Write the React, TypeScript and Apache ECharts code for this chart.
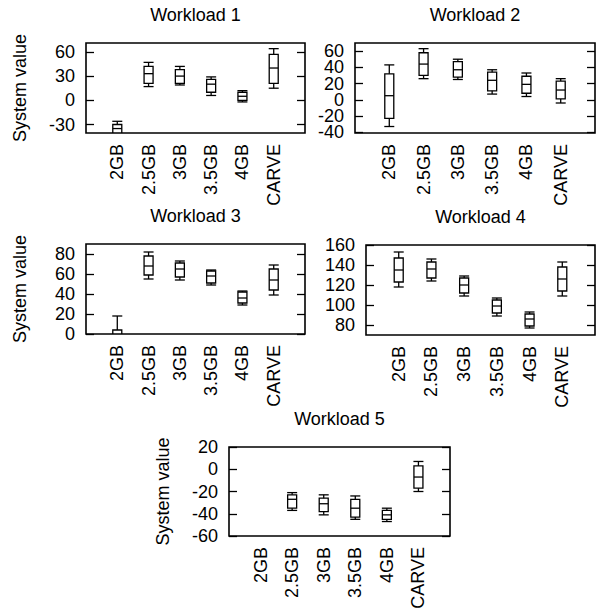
import React, { useEffect, useRef } from "react";
import * as echarts from "echarts";

// ---- data ----
const categories = ["2GB", "2.5GB", "3GB", "3.5GB", "4GB", "CARVE"];
const titles = ["Workload 1", "Workload 2", "Workload 3", "Workload 4", "Workload 5"];
const yAxisLabel = "System value";

// each item: [min, Q1, median, Q3, max]; null = no box drawn
const workload1 = [
  [-50, -44, -35, -30, -26],
  [17, 21, 33, 42, 47],
  [19, 21, 30, 38, 42],
  [6, 10, 20, 26, 29],
  [-2, 0, 5, 10, 12],
  [15, 21, 40, 57, 64],
];
const workload2 = [
  [-33, -23, 5, 32, 43],
  [26, 30, 44, 58, 63],
  [25, 28, 37, 47, 50],
  [7, 11, 24, 34, 37],
  [4, 8, 19, 29, 33],
  [-4, 1, 12, 23, 26],
];
const workload3 = [
  [-6, -3, -1, 4, 18],
  [55, 59, 68, 78, 82],
  [54, 57, 65, 71, 73],
  [49, 51, 58, 63, 64],
  [29, 31, 36, 42, 43],
  [39, 44, 54, 65, 69],
];
const workload4 = [
  [118, 123, 135, 147, 153],
  [124, 127, 136, 143, 146],
  [109, 112, 120, 127, 129],
  [89, 92, 99, 105, 107],
  [77, 79, 86, 91, 93],
  [109, 114, 126, 138, 143],
];
const workload5 = [
  null,
  [-37, -35, -27, -23, -21],
  [-41, -38, -31, -26, -23],
  [-45, -43, -35, -27, -24],
  [-47, -45, -41, -37, -35],
  [-20, -17, -7, 3, 7],
];

const ticks1 = [-30, 0, 30, 60];
const ticks2 = [-40, -20, 0, 20, 40, 60];
const ticks3 = [0, 20, 40, 60, 80];
const ticks4 = [80, 100, 120, 140, 160];
const ticks5 = [-60, -40, -20, 0, 20];

const ranges = [
  [-40.5, 71],
  [-41, 70],
  [0, 90],
  [70, 160],
  [-60, 20],
];

// ---- layout ----
const layouts = [
  { left: 86, top: 43, width: 219, height: 90, yName: true, split: false },
  { left: 355, top: 43, width: 240, height: 90, yName: false, split: true },
  { left: 86, top: 244, width: 219, height: 90, yName: true, split: false },
  { left: 366, top: 245, width: 229, height: 90, yName: false, split: false },
  { left: 229, top: 447, width: 221, height: 89, yName: true, split: false },
];

const FONT = '"Liberation Sans", Arial, Helvetica, sans-serif';
const FS = 18;

export default function App() {
  const ref = useRef<HTMLDivElement>(null);

  useEffect(() => {
    if (!ref.current) return;
    const chart = echarts.init(ref.current, null, { renderer: "svg" });
    const datasets = [workload1, workload2, workload3, workload4, workload5];
    const tickSets = [ticks1, ticks2, ticks3, ticks4, ticks5];

    const grid: any[] = [];
    const xAxis: any[] = [];
    const yAxis: any[] = [];
    const series: any[] = [];
    const graphic: any[] = [];

    const labelStyle = {
      fontSize: FS,
      fontFamily: FONT,
      color: "#000",
      margin: 11,
      showMinLabel: true,
      showMaxLabel: true,
      hideOverlap: false,
    };
    const tickStyle = {
      show: true,
      inside: true,
      length: 8,
      lineStyle: { color: "#000", width: 1.3 },
    };

    layouts.forEach((l, i) => {
      grid.push({
        left: l.left,
        top: l.top,
        width: l.width,
        height: l.height,
        show: true,
        borderColor: "#000",
        borderWidth: 1.6,
        backgroundColor: "transparent",
        containLabel: false,
      });
      xAxis.push({
        type: "value",
        gridIndex: i,
        min: 0,
        max: categories.length + 1,
        interval: 1,
        splitLine: { show: false },
        axisLine: { show: false },
        axisTick: { show: false },
        axisLabel: {
          rotate: 90,
          margin: 11,
          fontSize: FS,
          fontFamily: FONT,
          color: "#000",
          showMinLabel: true,
          showMaxLabel: true,
          hideOverlap: false,
          formatter: (v: number) => categories[v - 1] ?? "",
        },
      });
      const [mn, mx] = ranges[i];
      const ticks = tickSets[i];
      const mainIndex = yAxis.length;
      // when labels are tightly packed, spread them over two coincident axes
      const labelsA = l.split ? ticks.filter((_, k) => k % 2 === 0) : ticks;
      const labelsB = l.split ? ticks.filter((_, k) => k % 2 === 1) : [];
      yAxis.push({
        type: "value",
        gridIndex: i,
        position: "left",
        min: mn,
        max: mx,
        splitLine: { show: false },
        axisLine: { show: false },
        axisTick: { ...tickStyle, customValues: ticks },
        axisLabel: { ...labelStyle, customValues: labelsA },
        name: l.yName ? yAxisLabel : "",
        nameLocation: "middle",
        nameRotate: 90,
        nameGap: 57,
        nameTextStyle: { fontSize: FS, fontFamily: FONT, color: "#000" },
      });
      if (l.split) {
        yAxis.push({
          type: "value",
          gridIndex: i,
          position: "left",
          offset: 0,
          min: mn,
          max: mx,
          splitLine: { show: false },
          axisLine: { show: false },
          axisTick: { show: false },
          axisLabel: { ...labelStyle, customValues: labelsB },
        });
      }
      yAxis.push({
        type: "value",
        gridIndex: i,
        position: "right",
        min: mn,
        max: mx,
        splitLine: { show: false },
        axisLine: { show: false },
        axisTick: { ...tickStyle, customValues: ticks },
        axisLabel: { show: false },
      });

      const data = datasets[i]
        .map((d, k) => (d ? [k + 1, ...d] : null))
        .filter((d) => d !== null);

      series.push({
        type: "custom",
        xAxisIndex: i,
        yAxisIndex: mainIndex,
        clip: true,
        encode: { x: 0, y: [1, 2, 3, 4, 5] },
        data,
        renderItem: (params: any, api: any) => {
          const xv = api.value(0);
          const pMin = api.coord([xv, api.value(1)]);
          const pQ1 = api.coord([xv, api.value(2)]);
          const pMed = api.coord([xv, api.value(3)]);
          const pQ3 = api.coord([xv, api.value(4)]);
          const pMax = api.coord([xv, api.value(5)]);
          const cx = pMed[0];
          const hb = 4.5;
          const hc = 5;
          const st = { stroke: "#000", lineWidth: 1.3, fill: "none" };
          return {
            type: "group",
            children: [
              {
                type: "rect",
                shape: { x: cx - hb, y: pQ3[1], width: hb * 2, height: pQ1[1] - pQ3[1] },
                style: st,
              },
              { type: "line", shape: { x1: cx - hb, y1: pMed[1], x2: cx + hb, y2: pMed[1] }, style: st },
              { type: "line", shape: { x1: cx, y1: pQ3[1], x2: cx, y2: pMax[1] }, style: st },
              { type: "line", shape: { x1: cx, y1: pQ1[1], x2: cx, y2: pMin[1] }, style: st },
              { type: "line", shape: { x1: cx - hc, y1: pMax[1], x2: cx + hc, y2: pMax[1] }, style: st },
              { type: "line", shape: { x1: cx - hc, y1: pMin[1], x2: cx + hc, y2: pMin[1] }, style: st },
            ],
          };
        },
      });

      graphic.push({
        type: "text",
        x: l.left + l.width / 2,
        y: l.top - 28,
        style: {
          text: titles[i],
          fontSize: FS,
          fontFamily: FONT,
          fill: "#000",
          align: "center",
          verticalAlign: "middle",
        },
      });
    });

    chart.setOption({
      animation: false,
      backgroundColor: "#fff",
      grid,
      xAxis,
      yAxis,
      series,
      graphic,
    });
    return () => chart.dispose();
  }, []);

  return (
    <div
      ref={ref}
      style={{ position: "absolute", left: 0, top: 0, width: 596, height: 613 }}
    />
  );
}
